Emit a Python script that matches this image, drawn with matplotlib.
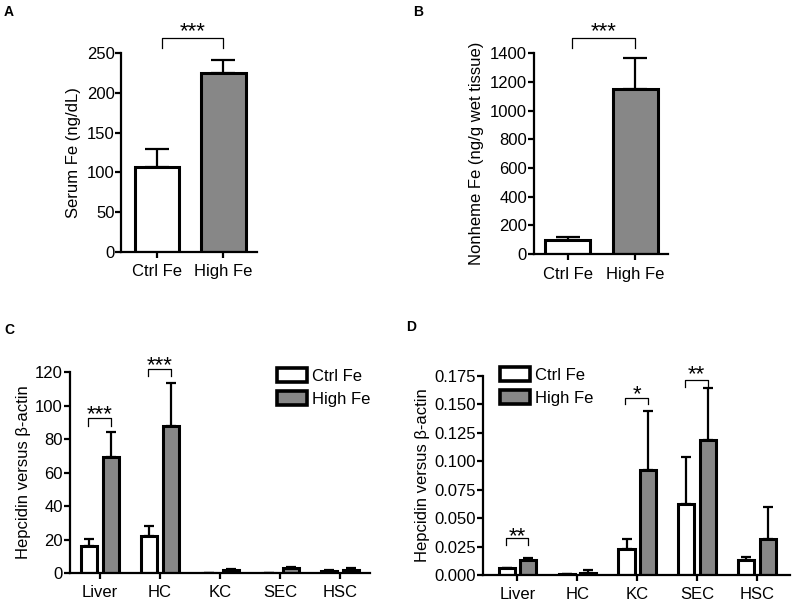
import numpy as np
import matplotlib
matplotlib.use('Agg')
from matplotlib import pyplot as plt

plt.rcParams['font.family'] = ['Liberation Sans', 'DejaVu Sans']

# panel A / B data
groups_ab = ['Ctrl Fe', 'High Fe']
serum_mean = [107, 225]
serum_err = [23, 17]
nonheme_mean = [97, 1150]
nonheme_err = [23, 220]

# panel C / D data
cells = ['Liver', 'HC', 'KC', 'SEC', 'HSC']
c_ctrl = [16, 22, 0.0, 0.0, 1.0]
c_ctrl_err = [4.5, 6, 0.0, 0.0, 0.5]
c_high = [69, 88, 2.0, 3.0, 1.5]
c_high_err = [15, 25.5, 0.5, 0.5, 1.5]
d_ctrl = [0.006, 0.001, 0.023, 0.062, 0.013]
d_ctrl_err = [0.0, 0.0, 0.009, 0.042, 0.003]
d_high = [0.013, 0.002, 0.092, 0.119, 0.032]
d_high_err = [0.002, 0.002, 0.052, 0.045, 0.028]

GRAY = '#878787'
LW = 1.6
FS = 12

fig = plt.figure(figsize=(7.94, 6.05), dpi=100)


def style(ax):
    for s in ['top', 'right']:
        ax.spines[s].set_visible(False)
    for s in ['left', 'bottom']:
        ax.spines[s].set_linewidth(LW)
    ax.tick_params(width=LW, length=4, labelsize=FS, direction='out')
    ax.tick_params(axis='y', pad=1)
    ax.tick_params(axis='x', pad=5)


def bracket(ax, x1, x2, y_top, y_low, text, off):
    ax.plot([x1, x1, x2, x2], [y_low, y_top, y_top, y_low], color='black', lw=0.9, clip_on=False)
    ax.annotate(text, xy=((x1 + x2) / 2, y_top), xytext=(0, off), textcoords='offset points',
                ha='center', va='baseline', fontsize=16, annotation_clip=False)


def two_bars(ax, means, errs, cap):
    x = np.arange(len(means))
    ax.errorbar(x, means, yerr=[np.zeros(len(errs)), errs], fmt='none', ecolor='black',
                elinewidth=LW, capsize=cap, capthick=LW, zorder=1)
    ax.bar(x, means, width=0.67, color=['white', GRAY], edgecolor='black', linewidth=2.2, zorder=2)
    ax.set_xticks(x)
    ax.set_xticklabels(groups_ab)


# A
axA = fig.add_axes([0.153, 0.5835, 0.171, 0.3285])
two_bars(axA, serum_mean, serum_err, 8.5)
axA.set_xlim(-0.54, 1.51)
axA.set_ylim(0, 250)
axA.set_yticks(range(0, 251, 50))
axA.set_ylabel('Serum Fe (ng/dL)', fontsize=FS, labelpad=4)
style(axA)
bracket(axA, 0.07, 1.0, 269, 257, '***', 1.0)

# B
axB = fig.add_axes([0.6725, 0.580, 0.1685, 0.332])
two_bars(axB, nonheme_mean, nonheme_err, 8.5)
axB.set_xlim(-0.50, 1.48)
axB.set_ylim(0, 1400)
axB.set_yticks(range(0, 1401, 200))
axB.set_ylabel('Nonheme Fe (ng/g wet tissue)', fontsize=FS, labelpad=4)
style(axB)
bracket(axB, 0.06, 1.0, 1505, 1440, '***', 1.0)


def grouped(ax, ctrl, ctrl_err, high, high_err, cap):
    x = np.arange(len(cells))
    off = 0.18
    w = 0.27
    ax.errorbar(x - off, ctrl, yerr=[np.zeros(len(ctrl)), ctrl_err], fmt='none', ecolor='black',
                elinewidth=LW, capsize=cap, capthick=LW, zorder=1)
    ax.errorbar(x + off, high, yerr=[np.zeros(len(high)), high_err], fmt='none', ecolor='black',
                elinewidth=LW, capsize=cap, capthick=LW, zorder=1)
    ax.bar(x - off, ctrl, width=w, color='white', edgecolor='black', linewidth=2.2, zorder=2, label='Ctrl Fe')
    ax.bar(x + off, high, width=w, color=GRAY, edgecolor='black', linewidth=2.2, zorder=2, label='High Fe')
    ax.set_xticks(x)
    ax.set_xticklabels(cells)


def legend(ax, anchor, loc):
    leg = ax.legend(loc=loc, bbox_to_anchor=anchor, frameon=False, fontsize=FS,
                    handlelength=1.85, handleheight=0.9, handletextpad=0.25, labelspacing=0.45,
                    borderaxespad=0, borderpad=0)
    for h in leg.legend_handles:
        h.set_linewidth(2.6)


# C
axC = fig.add_axes([0.088, 0.0529, 0.378, 0.3321])
grouped(axC, c_ctrl, c_ctrl_err, c_high, c_high_err, 3.5)
axC.set_xlim(-0.5, 4.5)
axC.set_ylim(0, 120)
axC.set_yticks(range(0, 121, 20))
axC.set_ylabel('Hepcidin versus \u03b2-actin', fontsize=FS, labelpad=3)
style(axC)
bracket(axC, -0.2, 0.18, 92.5, 88, '***', -1.5)
bracket(axC, 0.8, 1.18, 122, 117.5, '***', -1.5)
legend(axC, (1.0, 1.02), 'upper right')

# D
axD = fig.add_axes([0.608, 0.0496, 0.387, 0.329])
grouped(axD, d_ctrl, d_ctrl_err, d_high, d_high_err, 3.5)
axD.set_xlim(-0.58, 4.55)
axD.set_ylim(0, 0.175)
axD.set_yticks(np.arange(0, 0.176, 0.025))
axD.set_yticklabels(['%.3f' % v for v in np.arange(0, 0.176, 0.025)])
axD.set_ylabel('Hepcidin versus \u03b2-actin', fontsize=FS, labelpad=3)
style(axD)
bracket(axD, -0.2, 0.18, 0.0325, 0.026, '**', -3)
bracket(axD, 1.8, 2.18, 0.156, 0.150, '*', -2)
bracket(axD, 2.8, 3.18, 0.171, 0.165, '**', 0)
legend(axD, (0.055, 1.045), 'upper left')

for lab, x, y in [('A', 0.005, 0.98), ('B', 0.520, 0.98), ('C', 0.005, 0.4545), ('D', 0.511, 0.4595)]:
    fig.text(x, y, lab, fontsize=10, fontweight='bold', ha='left', va='center')

plt.savefig('out.png', dpi=100)
